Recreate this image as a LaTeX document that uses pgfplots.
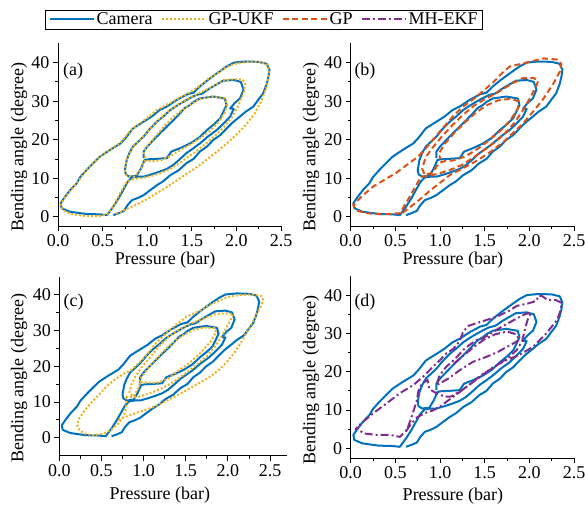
\documentclass[border=0pt]{standalone}
\usepackage{fontspec}
\setmainfont{Liberation Serif}
\usepackage{pgfplots}
\pgfplotsset{compat=1.18}
\usepackage{pgfplotstable}
\definecolor{cblue}{RGB}{0,114,189}
\definecolor{cyel}{RGB}{237,177,32}
\definecolor{cred}{RGB}{217,83,25}
\definecolor{cpur}{RGB}{126,47,142}

\pgfplotstableread{
x y
0.62 0.4
0.68 0.9
0.74 1.5
0.78 3.0
0.83 4.3
0.90 4.9
0.96 5.6
1.04 7.0
1.11 8.2
1.18 9.2
1.26 10.8
1.35 12.0
1.44 13.9
1.52 15.0
1.59 16.9
1.67 18.2
1.74 19.9
1.82 21.2
1.89 22.9
1.96 24.5
2.04 26.0
2.10 27.2
2.19 28.6
2.25 30.5
2.30 32.0
2.34 34.5
2.36 36.4
2.37 38.1
2.34 39.7
2.25 40.2
2.10 40.3
1.97 40.0
1.89 39.0
1.78 37.2
1.68 35.5
1.59 33.8
1.52 32.2
1.45 31.8
1.33 30.3
1.22 28.6
1.14 27.7
1.05 26.0
0.99 25.1
0.90 23.8
0.84 22.9
0.76 20.5
0.70 19.0
0.58 17.3
0.47 15.6
0.40 14.0
0.32 12.1
0.25 10.3
0.21 8.7
0.14 7.0
0.08 5.2
0.03 3.5
0.04 2.2
0.13 1.3
0.25 0.9
0.32 0.7
0.47 0.6
0.55 0.4
0.62 2.6
0.68 4.8
0.73 6.9
0.78 9.0
0.83 10.2
0.90 10.4
0.96 10.4
1.05 11.0
1.14 11.7
1.22 12.4
1.29 13.4
1.36 14.8
1.44 16.5
1.52 17.8
1.59 19.0
1.68 20.8
1.78 22.5
1.86 24.3
1.93 26.0
1.97 28.0
1.93 28.1
1.98 29.5
2.04 30.7
2.08 33.0
2.05 35.0
1.97 35.5
1.85 35.3
1.70 33.3
1.62 32.0
1.55 31.6
1.48 30.8
1.41 29.9
1.33 28.8
1.26 27.7
1.18 26.0
1.11 24.7
1.03 22.8
0.96 20.8
0.90 19.5
0.84 18.2
0.80 16.5
0.77 14.7
0.75 12.1
0.76 11.0
0.80 10.4
0.88 10.6
0.93 12.5
0.97 14.7
1.01 14.9
1.10 15.0
1.22 15.2
1.27 16.9
1.37 17.8
1.48 19.0
1.58 20.5
1.67 22.5
1.75 24.0
1.82 25.6
1.89 29.0
1.87 30.7
1.74 31.2
1.59 30.7
1.52 29.8
1.48 29.0
1.42 28.2
1.37 26.9
1.30 25.2
1.22 23.4
1.15 21.8
1.07 19.9
1.00 18.2
0.96 16.9
0.96 15.2
}\camera

\pgfplotstableread{
x y
0.65 0.8
0.72 1.4
0.80 2.3
0.90 3.4
1.00 4.6
1.10 6.0
1.20 7.4
1.30 8.9
1.40 10.5
1.50 12.0
1.60 13.6
1.70 15.4
1.80 17.2
1.90 19.2
2.00 21.3
2.10 23.7
2.20 26.6
2.28 30.0
2.34 33.8
2.37 37.3
2.35 39.4
2.27 40.2
2.12 40.2
1.98 39.7
1.89 38.8
1.78 37.2
1.68 35.7
1.59 34.0
1.50 32.6
1.40 31.3
1.30 30.1
1.20 28.8
1.10 27.6
1.00 25.6
0.90 24.0
0.80 22.0
0.70 19.2
0.58 17.4
0.47 15.6
0.38 13.6
0.30 11.5
0.22 9.0
0.14 6.8
0.07 4.8
0.03 3.0
0.06 1.6
0.15 0.7
0.30 0.2
0.45 0.1
0.55 0.6
0.62 2.6
0.70 6.3
0.77 9.0
0.85 9.8
0.93 10.0
1.05 10.6
1.15 11.3
1.25 12.3
1.35 13.7
1.45 15.4
1.55 17.0
1.65 18.8
1.75 20.8
1.85 23.0
1.95 25.8
2.02 28.8
2.08 32.0
2.10 34.5
2.07 35.6
1.97 35.7
1.85 35.4
1.72 33.6
1.55 31.7
1.41 30.0
1.26 27.8
1.11 24.8
0.96 20.9
0.84 18.2
0.77 14.7
0.75 12.1
0.77 10.8
0.85 10.3
0.92 12.0
0.97 14.4
1.05 14.4
1.15 14.6
1.25 15.6
1.37 17.3
1.48 18.7
1.60 20.5
1.70 22.2
1.80 24.6
1.87 27.0
1.90 29.3
1.86 30.8
1.74 31.2
1.59 30.6
1.48 29.0
1.40 27.8
1.30 26.0
1.20 23.8
1.08 20.5
1.00 18.3
0.96 16.5
0.98 15.2
}\gpukfa

\pgfplotstableread{
x y
0.58 1.0
0.66 2.4
0.76 4.2
0.88 6.6
1.00 8.8
1.11 10.8
1.25 12.5
1.41 14.5
1.55 16.6
1.71 19.4
1.82 21.8
1.93 24.2
2.05 27.5
2.16 30.7
2.27 34.6
2.34 37.6
2.36 39.6
2.31 40.8
2.16 41.1
2.05 40.5
1.93 39.8
1.78 39.0
1.70 37.4
1.60 35.0
1.50 33.0
1.40 31.0
1.26 28.6
1.15 26.2
1.05 23.5
0.95 20.8
0.85 18.0
0.75 15.5
0.62 13.3
0.51 11.4
0.38 9.6
0.25 7.8
0.12 5.2
0.03 3.0
0.06 1.6
0.18 0.9
0.35 0.6
0.55 0.9
0.62 3.5
0.68 6.0
0.74 8.5
0.79 10.4
0.88 10.6
1.00 11.3
1.12 12.2
1.25 13.5
1.40 15.8
1.55 18.2
1.70 21.0
1.82 24.0
1.92 27.3
2.00 30.5
2.07 33.5
2.10 35.3
2.05 36.0
1.93 36.0
1.80 34.5
1.65 32.3
1.50 30.5
1.38 28.8
1.26 26.5
1.14 23.8
1.02 20.8
0.92 18.0
0.84 15.5
0.80 12.5
0.83 10.8
0.92 11.5
0.99 14.0
1.05 14.4
1.15 14.6
1.28 15.6
1.42 17.6
1.56 20.0
1.70 22.8
1.80 25.5
1.87 28.0
1.88 30.0
1.78 30.6
1.65 30.2
1.52 28.9
1.40 27.0
1.28 24.5
1.15 21.5
1.05 18.8
0.99 16.5
1.00 15.0
}\gp

\pgfplotstableread{
x y
0.70 5.0
0.78 5.8
0.90 6.8
1.00 7.6
1.12 8.6
1.25 10.0
1.40 11.9
1.55 13.8
1.70 15.8
1.80 17.2
1.92 19.5
2.00 21.5
2.08 23.8
2.16 26.8
2.24 30.0
2.32 33.5
2.38 36.2
2.42 38.4
2.40 39.5
2.30 40.0
2.16 39.9
2.00 39.3
1.83 37.6
1.67 35.5
1.51 33.8
1.38 31.5
1.26 29.0
1.15 26.5
1.06 23.8
0.95 21.0
0.86 19.0
0.76 17.8
0.66 16.3
0.56 14.3
0.47 12.0
0.38 9.8
0.30 7.6
0.24 5.5
0.21 3.6
0.24 2.0
0.32 1.0
0.42 0.7
0.52 1.1
0.62 2.3
0.70 4.0
0.76 5.8
0.79 8.0
0.80 10.5
0.78 11.5
0.85 11.3
0.95 11.5
1.05 12.2
1.20 13.6
1.35 15.5
1.50 18.0
1.62 20.2
1.75 22.8
1.85 25.5
1.93 28.5
2.00 31.5
2.05 33.8
2.06 34.6
1.95 34.7
1.85 34.5
1.70 33.2
1.55 31.8
1.42 30.2
1.30 28.2
1.18 25.5
1.08 22.5
0.98 19.8
0.90 17.0
0.85 14.5
0.83 12.5
0.88 11.5
0.93 13.5
0.96 15.5
1.05 15.4
1.15 15.3
1.28 16.3
1.40 18.5
1.55 21.0
1.68 23.8
1.80 27.0
1.86 29.5
1.84 30.6
1.72 30.8
1.60 30.2
1.48 28.8
1.36 26.8
1.25 24.5
1.14 21.8
1.04 19.0
0.97 16.8
0.95 15.5
}\gpukfc

\pgfplotstableread{
x y
0.62 4.5
0.68 6.5
0.75 8.2
0.83 9.2
0.92 9.9
1.00 10.9
1.08 12.3
1.15 13.5
1.30 16.1
1.45 18.7
1.60 21.3
1.75 23.1
1.89 24.4
2.04 26.5
2.19 30.0
2.31 33.5
2.35 36.0
2.36 38.0
2.30 38.7
2.20 38.8
2.14 39.8
2.10 39.8
2.08 38.5
1.98 37.8
1.86 37.2
1.78 36.0
1.63 34.3
1.45 33.0
1.32 32.0
1.26 30.5
1.22 28.0
1.15 26.0
1.07 24.8
0.99 22.8
0.92 21.3
0.81 18.7
0.70 16.5
0.55 14.4
0.40 11.7
0.25 9.1
0.12 6.6
0.05 4.8
0.07 5.4
0.14 3.9
0.29 3.5
0.44 3.5
0.55 3.0
0.63 4.8
0.67 7.4
0.70 9.5
0.74 12.5
0.76 15.2
0.80 17.0
0.86 17.8
0.88 15.5
0.95 14.5
1.05 13.5
1.12 13.5
1.22 14.8
1.30 16.1
1.40 18.0
1.49 19.6
1.58 20.8
1.67 22.2
1.77 23.8
1.86 25.7
1.92 28.0
1.95 31.0
1.98 33.5
2.02 35.5
1.95 35.0
1.85 33.8
1.75 32.5
1.65 31.2
1.56 29.9
1.48 28.8
1.41 28.3
1.33 27.0
1.26 25.7
1.19 23.9
1.13 22.5
1.07 21.3
1.02 19.8
0.99 18.7
0.96 16.5
1.00 17.0
1.10 18.3
1.22 20.4
1.37 22.6
1.52 23.9
1.65 25.2
1.75 26.5
1.89 28.3
1.85 29.8
1.75 30.5
1.62 29.8
1.50 28.5
1.38 26.5
1.25 24.0
1.15 22.0
}\mhekf

\pgfplotsset{
  myaxis/.style={
    scale only axis,
    axis x line*=bottom, axis y line*=left,
    xmin=0, xmax=2.5, ymin=-2.5, ymax=45,
    xtick={0,0.5,1,1.5,2,2.5},
    ytick={0,10,20,30,40},
    minor x tick num=1, minor y tick num=1,
    tick align=outside,
    major tick length=5pt, minor tick length=3pt,
    every tick/.style={black, line width=0.8pt},
    axis line style={black, line width=0.8pt},
    xticklabel style={/pgf/number format/.cd, fixed, fixed zerofill, precision=1},
    /pgf/number format/assume math mode=true,
    tick label style={font=\fontsize{18}{20}\selectfont},
    label style={font=\fontsize{18}{20}\selectfont},
    xlabel={Pressure (bar)}, ylabel={Bending angle (degree)},
  },
}

\begin{document}
\begin{tikzpicture}[x=1pt,y=1pt]
\useasboundingbox (0,0) rectangle (586,506);

% (a)
\begin{axis}[myaxis, at={(58pt,279.7pt)}, anchor=south west, width=223pt, height=182.9pt,
  xlabel style={at={(axis description cs:0.48,-0.184)}, anchor=center},
  ylabel style={at={(axis description cs:-0.175,0.431)}, anchor=center},
  legend columns=4,
  legend style={at={(axis description cs:0.924,1.131)}, anchor=center,
    font=\fontsize{18}{20}\selectfont, inner xsep=3pt, inner ysep=1pt,
    /tikz/every even column/.append style={column sep=6pt}},
]
\addplot[color=cblue, line width=2pt, line join=round, forget plot] table {\camera};
\addplot[color=cyel, line width=2pt, dash pattern=on 2pt off 2pt, forget plot] table {\gpukfa};
\addlegendimage{legend image code/.code={\draw[cblue, line width=2pt] (0pt,0pt) -- (44pt,0pt);}}
\addlegendimage{legend image code/.code={\draw[cyel, line width=2pt, dash pattern=on 2pt off 2pt] (0pt,0pt) -- (44pt,0pt);}}
\addlegendimage{legend image code/.code={\draw[cred, line width=2pt, dash pattern=on 6pt off 3.5pt] (0pt,0pt) -- (44pt,0pt);}}
\addlegendimage{legend image code/.code={\draw[cpur, line width=2pt, dash pattern=on 8pt off 3pt on 2pt off 3pt] (0pt,0pt) -- (44pt,0pt);}}
\legend{Camera,GP-UKF,GP,MH-EKF}
\node[font=\fontsize{18}{20}\selectfont] at (axis cs:0.17,37.8) {(a)};
\end{axis}

% (b)
\begin{axis}[myaxis, at={(350.7pt,279.7pt)}, anchor=south west, width=223.3pt, height=182.9pt,
  xlabel style={at={(axis description cs:0.458,-0.184)}, anchor=center},
  ylabel style={at={(axis description cs:-0.178,0.431)}, anchor=center},
]
\addplot[color=cblue, line width=2pt, line join=round] table {\camera};
\addplot[color=cred, line width=2pt, dash pattern=on 6pt off 3.5pt] table {\gp};
\node[font=\fontsize{18}{20}\selectfont] at (axis cs:0.16,37.8) {(b)};
\end{axis}

% (c)
\begin{axis}[myaxis, at={(59.3pt,50.4pt)}, anchor=south west, width=227.6pt, height=179pt,
  xmax=2.7, ymin=-5,
  xlabel style={at={(axis description cs:0.442,-0.22)}, anchor=center},
  ylabel style={at={(axis description cs:-0.177,0.431)}, anchor=center},
]
\addplot[color=cblue, line width=2pt, line join=round] table {\camera};
\addplot[color=cyel, line width=2pt, dash pattern=on 2pt off 2pt] table {\gpukfc};
\node[font=\fontsize{18}{20}\selectfont] at (axis cs:0.17,37.8) {(c)};
\end{axis}

% (d)
\begin{axis}[myaxis, at={(350.7pt,48.1pt)}, anchor=south west, width=223.3pt, height=181.9pt,
  xlabel style={at={(axis description cs:0.458,-0.209)}, anchor=center},
  ylabel style={at={(axis description cs:-0.178,0.428)}, anchor=center},
]
\addplot[color=cblue, line width=2pt, line join=round] table {\camera};
\addplot[color=cpur, line width=2pt, dash pattern=on 8pt off 3pt on 2pt off 3pt] table {\mhekf};
\node[font=\fontsize{18}{20}\selectfont] at (axis cs:0.16,38.1) {(d)};
\end{axis}
\end{tikzpicture}
\end{document}
